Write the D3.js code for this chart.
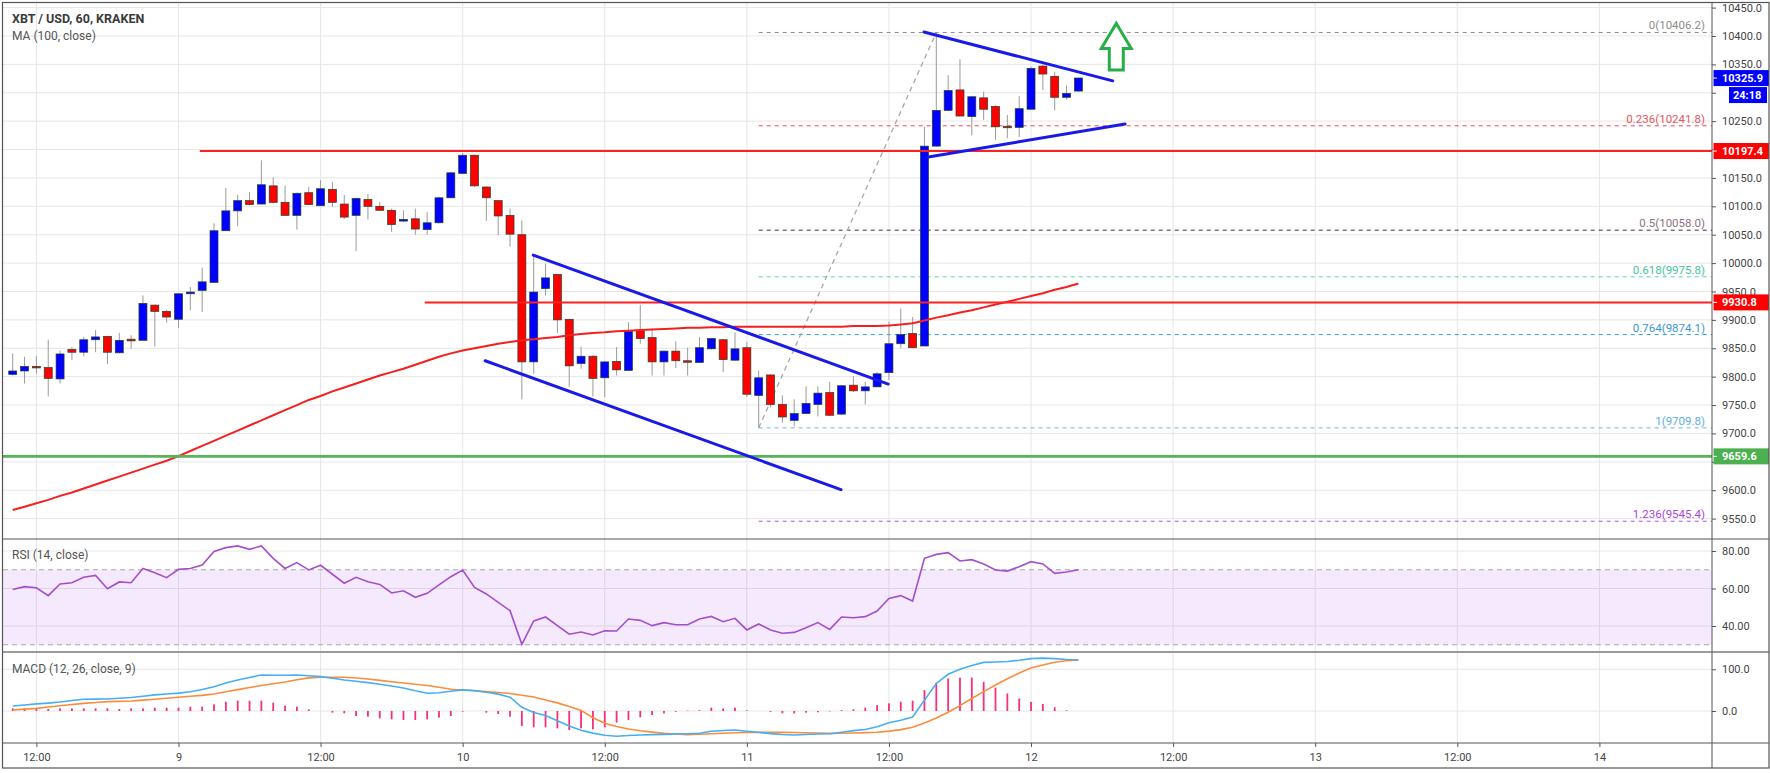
<!DOCTYPE html>
<html><head><meta charset="utf-8">
<script src="https://cdn.jsdelivr.net/npm/d3@7"></script>
<style>
body{margin:0;background:#fff;}
svg{display:block;font-family:Roboto,"Open Sans",sans-serif;}
</style>
</head><body>
<svg id="c" width="1770" height="773"></svg>
<script>
// ---------------- DATA ----------------
const firstHour = -2;   // hours from "8 Sep 12:00"
const opens = [9804,9810,9818,9816,9796,9848,9843,9865,9871,9842,
 9866,9864,9926,9915,9901,9946,9952,9966,10057,10092,
 10110,10104,10136,10107,10084,10124,10101,10130,10104,10084,
 10112,10100,10093,10074,10078,10059,10071,10115,10158,10190,
 10134,10110,10084,10050,9826,9955,9980,9901,9823,9836,
 9798,9827,9811,9881,9869,9826,9845,9828,9825,9849,
 9865,9829,9851,9767,9803,9751,9723,9735,9751,9772,
 9734,9785,9775,9782,9807,9858,9876,9854,10206,10269,
 10305,10258,10291,10276,10241,10239,10271,10347,10329,10292,10303];
const highs = [9841,9835,9836,9865,9846,9852,9870,9882,9872,9877,
 9873,9943,9927,9917,9947,9958,9992,10070,10132,10120,
 10125,10181,10151,10137,10124,10134,10146,10143,10120,10115,
 10122,10108,10096,10093,10096,10090,10117,10161,10194,10191,
 10135,10111,10096,10075,10014,9999,9981,9902,9853,9838,
 9827,9852,9896,9926,9885,9846,9862,9851,9870,9868,
 9867,9878,9861,9811,9804,9767,9760,9783,9783,9791,
 9785,9801,9791,9808,9897,9920,9905,10240,10406,10331,
 10359,10294,10302,10278,10261,10294,10346,10349,10337,10313,10327];
const lows = [9802,9788,9805,9765,9788,9829,9836,9843,9822,9841,
 9849,9864,9853,9895,9886,9917,9914,9966,10057,10065,
 10102,10104,10105,10084,10059,10102,10101,10099,10078,10021,
 10077,10092,10055,10073,10050,10050,10070,10115,10157,10134,
 10074,10049,10029,9760,9805,9943,9877,9782,9814,9765,
 9764,9802,9810,9858,9802,9802,9815,9802,9824,9848,
 9808,9828,9764,9710,9746,9719,9713,9734,9730,9731,
 9733,9773,9751,9782,9794,9850,9850,9854,10205,10268,
 10259,10225,10252,10217,10220,10222,10271,10305,10269,10288,10302];
const closes = [9810,9818,9816,9797,9840,9843,9865,9870,9843,9864,
 9863,9929,9915,9905,9946,9949,9967,10057,10092,10110,
 10103,10138,10107,10084,10123,10103,10131,10107,10081,10114,
 10100,10093,10068,10077,10060,10071,10115,10159,10190,10136,
 10115,10083,10051,9826,9949,9974,9900,9819,9836,9797,
 9826,9812,9880,9867,9826,9845,9828,9826,9851,9867,
 9830,9849,9769,9798,9751,9729,9735,9753,9771,9732,
 9784,9775,9782,9805,9858,9874,9851,10206,10269,10304,
 10259,10293,10271,10240,10239,10272,10343,10333,10292,10299,10326];
const ma100 = [9565,9571,9577,9583,9590,9596,9603,9610,9617,9624,
 9631,9638,9645,9652,9660,9669,9678,9687,9696,9705,
 9714,9723,9732,9741,9750,9759,9766,9774,9781,9788,
 9795,9802,9808,9814,9821,9828,9835,9841,9846,9850,
 9854,9858,9861,9864,9866,9868,9870,9873,9875,9877,
 9878,9880,9881,9882,9883,9884,9885,9886,9886,9887,
 9887,9888,9888,9888,9888,9888,9888,9888,9888,9888,
 9888,9889,9889,9889,9890,9892,9894,9899,9904,9908,
 9913,9917,9922,9927,9932,9937,9942,9947,9953,9958,9964];
const rsi = [59.5,61.0,60.4,56.2,62.4,63.1,66.0,67.0,59.9,63.5,
 63.1,70.7,68.4,65.8,70.2,70.7,72.5,79.8,81.8,82.7,
 80.9,82.7,76.1,70.7,73.8,69.9,72.4,67.6,62.8,66.0,
 63.6,62.2,57.6,58.8,55.3,57.4,61.9,66.3,69.9,60.6,
 57.1,52.6,48.2,30.2,42.7,44.8,40.2,35.6,36.8,35.2,
 37.5,37.3,43.7,43.0,40.2,41.8,40.7,40.7,43.7,45.1,
 42.3,44.1,37.9,41.1,37.9,36.1,36.6,39.1,41.8,38.2,
 44.8,44.4,45.0,48.0,54.7,56.2,53.3,76.1,78.2,79.1,
 74.7,75.4,73.1,69.9,69.3,71.6,74.3,73.1,68.1,68.8,70.0];
const macdLine = [12,14.5,17,19,21.5,25,28,28.4,28.8,30.4,
 32.2,35.5,38.6,40.7,42.8,46.3,51.5,58,67,74.5,
 80.5,86.4,85.8,85.6,86.2,84.6,82.5,78.5,74.5,71.2,
 68,64,59.8,55.3,48.5,42.6,43.8,47.4,50.6,48.9,
 44.9,40.5,33,9,-3.6,-11,-23.5,-36,-46,-53,
 -58,-60.5,-58.6,-57.5,-56.6,-56,-55.2,-54.4,-53.2,-48.5,
 -46.8,-45.6,-48.5,-51,-54.3,-56.3,-57.6,-56.5,-55,-54.5,
 -51,-47,-44.3,-38,-28,-22,-14.5,26,66,88,
 100,109,116.6,117.5,118.8,121.6,125.5,126.8,125.5,123.4,122.2];
const signalLine = [2.4,4.4,6.4,9.5,12.5,15.5,18.3,20.5,22.4,23.2,
 24,26,28.2,30.6,33,35.3,37.4,40.6,46,51.2,
 56.2,61,65.4,69.6,74.8,79.5,80.8,80.8,80.8,79,
 76.8,73.5,70.3,67.3,64,61,57,52.3,50.5,48.5,
 46.5,44.5,42,37.6,33.5,26.5,19.5,11,1.5,-16,
 -29.6,-37,-43,-47.5,-50.7,-53.6,-55.2,-56.8,-55.6,-54.4,
 -53.2,-52,-51.6,-51.2,-51.2,-51.2,-51.6,-52,-52.8,-53.6,
 -53.2,-52.8,-51.8,-50.8,-48.2,-44.7,-38.8,-28.5,-17,-3,
 13,30,46.4,62.5,77.5,91,103,110.5,117,120.5,122.2];
const histogram = [6.4,6.4,4.8,4.8,6.4,6.4,6.4,6.4,6.4,4.8,
 6.4,6.4,8,8,8,10.4,10.4,16,22.4,24.8,
 24.8,24.8,20,12.8,10.4,4,0,-4,-5.6,-12,
 -13.6,-17.6,-20,-21.6,-21.6,-20,-16,-12,-1.6,0,
 -4,-7.2,-13.6,-36,-39.2,-39.2,-41.6,-45.6,-41.6,-44,
 -39,-28,-21.6,-15.2,-9.6,-5.6,-2,1,2,8,
 6,8,1.6,0,-2,-5.6,-6,-4,-3,-1,
 2,4,8,14,18.4,22.4,24.8,50,68,78,
 80,80,70,56,42,30,22,17,9,1.6,0];

const timeTickHours = [0,12,24,36,48,60,72,84,96,108,120,132];
const timeTickLabels = ["12:00","9","12:00","10","12:00","11","12:00","12","12:00","13","12:00","14"];
const priceTicks = [9550,9600,9650,9700,9750,9800,9850,9900,9950,10000,10050,10100,10150,10200,10250,10300,10350,10400,10450];
const rsiTicks = [80,60,40];
const macdTicks = [100,0];

const fibLevels = [0,0.236,0.5,0.618,0.764,1,1.236];
const fibPrices = [10406.2,10241.8,10058.0,9975.8,9874.1,9709.8,9545.4];
const fibStartHour = 61;

const levelPrices = [10197.4, 9930.8, 9659.6];
const levelStartHours = [13.8, 32.8, -3];

const channelUpper = [[41.96,10014],[71.94,9787]];
const channelLower = [[37.9,9828],[67.95,9601]];
const triangleUpper = [[74.96,10407],[90.9,10321]];
const triangleLower = [[75.33,10187],[91.94,10245]];
const fibDiagonal = [[61,9709.8],[76,10406.2]];
const arrowAnchor = [91.2, 10422, 10378, 10340]; // hour, tip, head base, tail

const lastPrice = 10325.9;
const countdown = "24:18";

// ---------------- LAYOUT ----------------
const L=3, R=1712, PT=3, PB=539, RB=652, MB=743, AB=768, FR=1769;
const svg = d3.select('#c');
const x = d3.scaleLinear().domain([-2.82,141.51]).range([L,R]);
const yP = d3.scaleLinear().domain([9550,10450]).range([518.6,7.6]);
const yR = d3.scaleLinear().domain([40,80]).range([626,551]);
const yM = d3.scaleLinear().domain([0,100]).range([711,669.3]);
const hours = closes.map((d,i)=>i+firstHour);

const defs = svg.append('defs');
function clip(id,y0,y1){defs.append('clipPath').attr('id',id).append('rect').attr('x',L).attr('y',y0).attr('width',R-L).attr('height',y1-y0);}
clip('cp',PT,PB); clip('cr',PB,RB); clip('cm',RB,MB);

const gridC = '#e6e6e6';
const vg = svg.append('g');
timeTickHours.forEach(h=>{
  vg.append('line').attr('x1',x(h)).attr('x2',x(h)).attr('y1',PT).attr('y2',MB).attr('stroke',gridC).attr('stroke-width',1);
});
const pg = svg.append('g');
priceTicks.forEach(p=>pg.append('line').attr('x1',L).attr('x2',R).attr('y1',yP(p)).attr('y2',yP(p)).attr('stroke',gridC));
rsiTicks.forEach(p=>pg.append('line').attr('x1',L).attr('x2',R).attr('y1',yR(p)).attr('y2',yR(p)).attr('stroke',gridC));
macdTicks.forEach(p=>pg.append('line').attr('x1',L).attr('x2',R).attr('y1',yM(p)).attr('y2',yM(p)).attr('stroke',gridC));

// ---------------- PRICE PANE ----------------
const gp = svg.append('g').attr('clip-path','url(#cp)');
const fibLineColors = ['#8c8c8c','#e8474c','#4a2a3c','#55d6a8','#2a9fc9','#6db8e8','#b04ee8'];
const fibTextColors = ['#8c8c8c','#e0595e','#8f6f84','#3ec995','#3a98d8','#5aaee6','#a846e0'];
fibPrices.forEach((p,i)=>{
  gp.append('line').attr('x1',x(fibStartHour)).attr('x2',R).attr('y1',yP(p)).attr('y2',yP(p))
    .attr('stroke',fibLineColors[i]).attr('stroke-width',1).attr('stroke-dasharray','4,4');
  gp.append('text').attr('x',R-7).attr('y',yP(p)-3).attr('text-anchor','end')
    .attr('font-size',11.5).attr('fill',fibTextColors[i])
    .text(fibLevels[i]+'('+p.toFixed(1)+')');
});
const line = d3.line().x(d=>x(d[0])).y(d=>yP(d[1]));
gp.append('path').attr('d',line(fibDiagonal)).attr('stroke','#a8a8a8').attr('stroke-width',1.3)
  .attr('stroke-dasharray','5,4').attr('fill','none');

// candles
const cw = 8;
const cg = gp.append('g');
hours.forEach((h,i)=>{
  const o=opens[i], c=closes[i], up = c>=o;
  cg.append('line').attr('x1',x(h)).attr('x2',x(h)).attr('y1',yP(highs[i])).attr('y2',yP(lows[i]))
    .attr('stroke','#9a9a9a').attr('stroke-width',1);
  const top=yP(Math.max(o,c)), bot=yP(Math.min(o,c));
  cg.append('rect').attr('x',x(h)-cw/2).attr('y',top).attr('width',cw).attr('height',Math.max(1.5,bot-top))
    .attr('fill',up?'#0000ff':'#ff0000').attr('stroke','#23402a').attr('stroke-width',0.7);
});

// MA
gp.append('path').attr('d',d3.line().x((d,i)=>x(hours[i])).y(d=>yP(d))(ma100))
  .attr('fill','none').attr('stroke','#f51f1f').attr('stroke-width',2);

// horizontal levels
const levelColors = ['#ff2020','#ff2020','#55b455'];
const levelWidths = [2,2,2.6];
levelPrices.forEach((p,i)=>{
  gp.append('line').attr('x1',x(levelStartHours[i])).attr('x2',R).attr('y1',yP(p)).attr('y2',yP(p))
    .attr('stroke',levelColors[i]).attr('stroke-width',levelWidths[i]);
});

// trend lines
[channelUpper,channelLower,triangleUpper,triangleLower].forEach(seg=>{
  gp.append('path').attr('d',line(seg)).attr('stroke','#1a1ae8').attr('stroke-width',3)
    .attr('fill','none').attr('stroke-linecap','round');
});

// arrow
{
  const ax=x(arrowAnchor[0]), tip=yP(arrowAnchor[1]), hb=yP(arrowAnchor[2]), tail=yP(arrowAnchor[3]);
  const hw=15, sw=7;
  const pts=[[ax,tip],[ax+hw,hb],[ax+sw,hb],[ax+sw,tail],[ax-sw,tail],[ax-sw,hb],[ax-hw,hb]];
  gp.append('path').attr('d','M'+pts.map(p=>p.join(',')).join('L')+'Z')
    .attr('fill','#fff').attr('stroke','#27ae46').attr('stroke-width',3).attr('stroke-linejoin','miter');
}

// titles
svg.append('text').attr('x',12).attr('y',23).attr('font-size',12.5).attr('font-weight','bold').attr('fill','#3a3a3a').text('XBT / USD, 60, KRAKEN');
svg.append('text').attr('x',12).attr('y',40).attr('font-size',12).attr('fill','#555').text('MA (100, close)');

// ---------------- RSI PANE ----------------
const gr = svg.append('g').attr('clip-path','url(#cr)');
gr.append('rect').attr('x',L).attr('width',R-L).attr('y',yR(70)).attr('height',yR(30)-yR(70))
  .attr('fill','rgba(160,60,235,0.11)');
[70,30].forEach(v=>gr.append('line').attr('x1',L).attr('x2',R).attr('y1',yR(v)).attr('y2',yR(v))
  .attr('stroke','#a8a8a8').attr('stroke-dasharray','5,4'));
gr.append('path').attr('d',d3.line().x((d,i)=>x(hours[i])).y(d=>yR(d))(rsi))
  .attr('fill','none').attr('stroke','#a54fcc').attr('stroke-width',1.6);
svg.append('text').attr('x',12).attr('y',559).attr('font-size',12).attr('fill','#555').text('RSI (14, close)');

// ---------------- MACD PANE ----------------
const gm = svg.append('g').attr('clip-path','url(#cm)');
hours.forEach((h,i)=>{
  const v=histogram[i];
  gm.append('rect').attr('x',x(h)-0.9).attr('width',1.8)
    .attr('y',Math.min(yM(v),yM(0))).attr('height',Math.abs(yM(v)-yM(0)))
    .attr('fill','#f5307e');
});
gm.append('path').attr('d',d3.line().x((d,i)=>x(hours[i])).y(d=>yM(d))(signalLine))
  .attr('fill','none').attr('stroke','#fb8c3c').attr('stroke-width',1.6);
gm.append('path').attr('d',d3.line().x((d,i)=>x(hours[i])).y(d=>yM(d))(macdLine))
  .attr('fill','none').attr('stroke','#46aef5').attr('stroke-width',1.6);
svg.append('text').attr('x',12).attr('y',673).attr('font-size',12).attr('fill','#555').text('MACD (12, 26, close, 9)');

// ---------------- AXES ----------------
const markerPrices = [lastPrice, 10197.4, 9930.8, 9659.6];
const markerColors = ['#0000ff','#ff0000','#ff0000','#4caf50'];
function styleAxis(g){
  g.select('.domain').remove();
  g.selectAll('.tick line').attr('stroke','#555');
  g.selectAll('.tick text').attr('fill','#444').attr('font-size',11).attr('font-family','Roboto,sans-serif');
}
const pAxis = svg.append('g').attr('transform',`translate(${R},0)`)
  .call(d3.axisRight(yP).tickValues(priceTicks).tickFormat(d=>d.toFixed(1)).tickSize(4).tickPadding(6)).call(styleAxis);
// labels hidden behind the price markers (as in the reference)
pAxis.selectAll('.tick').filter(d=>{
  const yy=yP(d);
  return markerPrices.some(p=>Math.abs(yP(p)-yy)<9) || (yy>yP(lastPrice)+4 && yy<yP(lastPrice)+28);
}).select('text').remove();
svg.append('g').attr('transform',`translate(${R},0)`)
  .call(d3.axisRight(yR).tickValues(rsiTicks).tickFormat(d=>d.toFixed(2)).tickSize(4).tickPadding(6)).call(styleAxis);
svg.append('g').attr('transform',`translate(${R},0)`)
  .call(d3.axisRight(yM).tickValues(macdTicks).tickFormat(d=>d.toFixed(1)).tickSize(4).tickPadding(6)).call(styleAxis);
svg.append('g').attr('transform',`translate(0,${MB})`)
  .call(d3.axisBottom(x).tickValues(timeTickHours).tickFormat((d,i)=>timeTickLabels[i]).tickSize(4).tickPadding(6)).call(styleAxis);

markerPrices.forEach((p,i)=>{
  const yy=yP(p);
  svg.append('rect').attr('x',R+1.5).attr('y',yy-8).attr('width',FR-R-1.5).attr('height',16).attr('fill',markerColors[i]);
  svg.append('line').attr('x1',R).attr('x2',R+5).attr('y1',yy).attr('y2',yy).attr('stroke','#fff');
  svg.append('text').attr('x',R+10).attr('y',yy+4).attr('font-size',11).attr('fill','#fff').attr('font-weight','bold').text(p.toFixed(1));
});
{
  const yy=yP(lastPrice);
  svg.append('rect').attr('x',R+17).attr('y',yy+9).attr('width',FR-R-19).attr('height',16).attr('fill','#0000ff');
  svg.append('text').attr('x',R+21).attr('y',yy+21).attr('font-size',11).attr('fill','#fff').attr('font-weight','bold').text(countdown);
}

// separators & frame
svg.append('line').attr('x1',L).attr('x2',FR).attr('y1',PB).attr('y2',PB).attr('stroke','#555').attr('stroke-width',1);
svg.append('line').attr('x1',L).attr('x2',FR).attr('y1',RB).attr('y2',RB).attr('stroke','#9a9a9a').attr('stroke-width',2.2);
svg.append('line').attr('x1',L).attr('x2',FR).attr('y1',MB).attr('y2',MB).attr('stroke','#555').attr('stroke-width',1);
svg.append('line').attr('x1',R).attr('x2',R).attr('y1',PT).attr('y2',AB).attr('stroke','#555').attr('stroke-width',1);
svg.append('rect').attr('x',2.5).attr('y',2.5).attr('width',FR-2.5).attr('height',AB-2.5)
  .attr('fill','none').attr('stroke','#555').attr('stroke-width',1.2);
</script>
</body></html>
